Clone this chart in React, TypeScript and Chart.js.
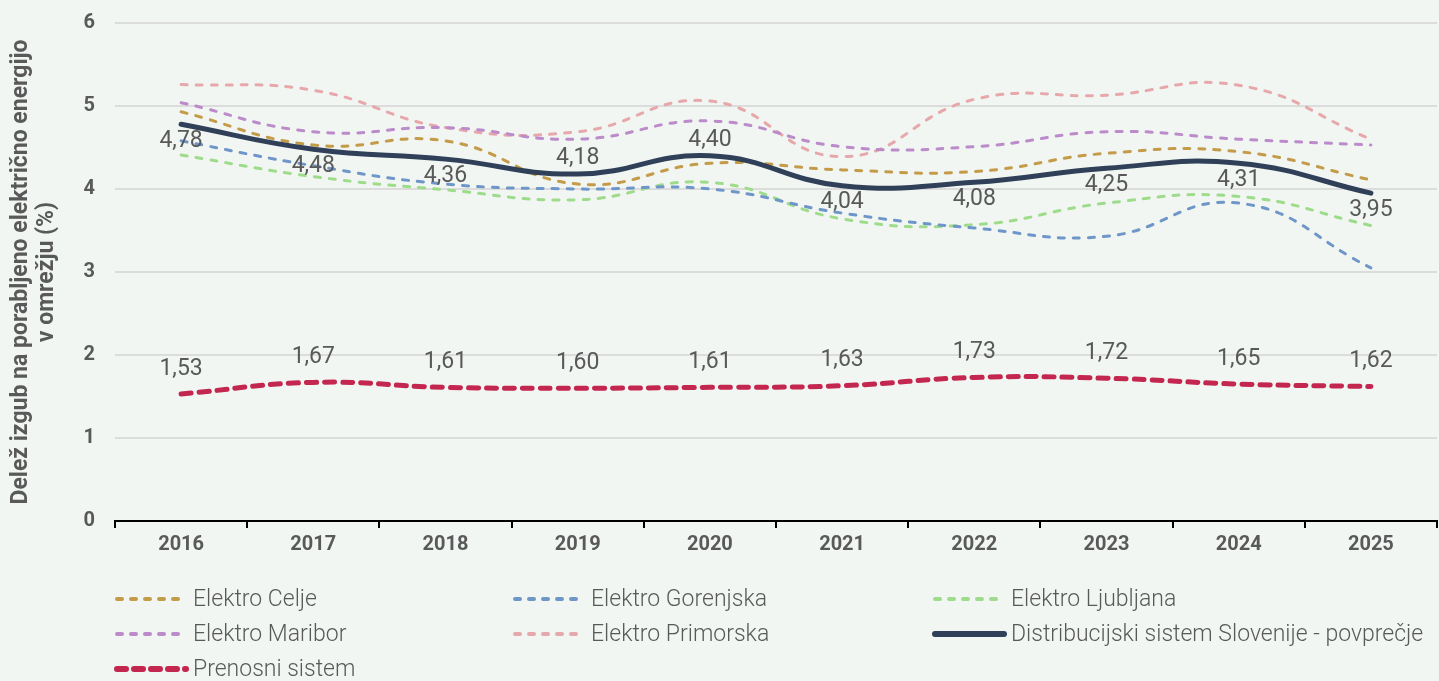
import React, { useEffect, useRef } from "react";
import { Chart, registerables } from "chart.js";

Chart.register(...registerables);

const years = ["2016", "2017", "2018", "2019", "2020", "2021", "2022", "2023", "2024", "2025"];
const celje = [4.93, 4.53, 4.58, 4.06, 4.31, 4.23, 4.21, 4.43, 4.45, 4.11];
const gorenjska = [4.58, 4.28, 4.06, 4.0, 4.0, 3.71, 3.53, 3.43, 3.83, 3.05];
const ljubljana = [4.41, 4.15, 3.99, 3.87, 4.08, 3.64, 3.57, 3.83, 3.91, 3.56];
const maribor = [5.04, 4.69, 4.74, 4.6, 4.82, 4.51, 4.51, 4.69, 4.6, 4.53];
const primorska = [5.26, 5.19, 4.74, 4.69, 5.06, 4.39, 5.08, 5.13, 5.25, 4.6];
const povprecje = [4.78, 4.48, 4.36, 4.18, 4.4, 4.04, 4.08, 4.25, 4.31, 3.95];
const prenosni = [1.53, 1.67, 1.61, 1.6, 1.61, 1.63, 1.73, 1.72, 1.65, 1.62];
const povprecjeLabelAbove = [false, false, false, true, true, false, false, false, false, false];

const TEXT = "#595959";
const FONT = "Roboto";

const valueLabels = {
  id: "valueLabels",
  afterDatasetsDraw(chart: any) {
    const ctx = chart.ctx;
    ctx.save();
    ctx.font = `400 23px ${FONT}`;
    ctx.fillStyle = TEXT;
    ctx.textAlign = "center";
    ctx.textBaseline = "middle";
    chart.data.datasets.forEach((ds: any, i: number) => {
      if (!ds.showValues) return;
      const meta = chart.getDatasetMeta(i);
      meta.data.forEach((pt: any, j: number) => {
        const above = ds.labelAbove ? ds.labelAbove[j] : true;
        const dy = above ? -ds.offAbove : ds.offBelow;
        const txt = Number(ds.data[j]).toFixed(2).replace(".", ",");
        ctx.fillText(txt, pt.x, pt.y + dy);
      });
    });
    ctx.restore();
  },
};

const legendPositions = [
  [115, 599], [513, 599], [933, 599],
  [115, 634], [513, 634], [933, 634],
  [115, 669],
];

const customLegend = {
  id: "customLegend",
  afterDraw(chart: any) {
    const ctx = chart.ctx;
    ctx.save();
    chart.data.datasets.forEach((ds: any, i: number) => {
      const p = legendPositions[i];
      if (!p) return;
      const [x, y] = p;
      ctx.beginPath();
      ctx.strokeStyle = ds.borderColor;
      ctx.lineWidth = ds.legendWidth;
      ctx.lineCap = "round";
      ctx.setLineDash(ds.legendDash || []);
      ctx.moveTo(x + 2, y);
      ctx.lineTo(x + 71, y);
      ctx.stroke();
      ctx.setLineDash([]);
      ctx.font = `300 23px ${FONT}`;
      ctx.fillStyle = TEXT;
      ctx.textAlign = "left";
      ctx.textBaseline = "middle";
      ctx.fillText(ds.label, x + 78, y + 1);
    });
    ctx.restore();
  },
};

function dashed(label: string, data: number[], color: string) {
  return {
    label,
    data,
    borderColor: color,
    backgroundColor: color,
    borderWidth: 3,
    borderDash: [6, 9],
    borderCapStyle: "round",
    legendDash: [5, 9],
    legendWidth: 4,
    pointRadius: 0,
    tension: 0.45,
    order: 2,
    fill: false,
  };
}

export default function App() {
  const ref = useRef<HTMLCanvasElement | null>(null);

  useEffect(() => {
    document.body.style.margin = "0";
    document.body.style.background = "#f2f6f3";
    const canvas = ref.current;
    if (!canvas) return;
    const chart = new Chart(canvas, {
      type: "line",
      data: {
        labels: years,
        datasets: [
          dashed("Elektro Celje", celje, "#c49b48"),
          dashed("Elektro Gorenjska", gorenjska, "#6f96c8"),
          dashed("Elektro Ljubljana", ljubljana, "#9edc8c"),
          dashed("Elektro Maribor", maribor, "#bb8bca"),
          dashed("Elektro Primorska", primorska, "#e6a8aa"),
          {
            label: "Distribucijski sistem Slovenije - povprečje",
            data: povprecje,
            borderColor: "#2f4058",
            backgroundColor: "#2f4058",
            borderWidth: 5,
            borderCapStyle: "round",
            legendWidth: 6,
            pointRadius: 0,
            tension: 0.45,
            order: 0,
            showValues: true,
            labelAbove: povprecjeLabelAbove,
            offAbove: 16,
            offBelow: 17,
          } as any,
          {
            label: "Prenosni sistem",
            data: prenosni,
            borderColor: "#c3264f",
            backgroundColor: "#c3264f",
            borderWidth: 5,
            borderDash: [10, 8],
            borderCapStyle: "round",
            legendDash: [9, 8],
            legendWidth: 6,
            pointRadius: 0,
            tension: 0.45,
            order: 1,
            showValues: true,
            offAbove: 25,
            offBelow: 25,
          } as any,
        ] as any,
      },
      options: {
        animation: false,
        responsive: false,
        maintainAspectRatio: false,
        layout: { padding: { top: 23, left: 0, right: 2, bottom: 120 } },
        plugins: {
          legend: { display: false },
          tooltip: { enabled: false },
        },
        scales: {
          x: {
            offset: true,
            border: { display: true, color: "#000000", width: 2 },
            grid: {
              display: true,
              offset: true,
              drawOnChartArea: false,
              drawTicks: true,
              tickLength: 7,
              color: "#000000",
              lineWidth: 2,
            },
            ticks: {
              color: TEXT,
              font: { family: FONT, size: 20, weight: "bold" },
              padding: 5,
            },
            afterFit(scale: any) {
              scale.height = 40;
              scale.paddingLeft = 0;
              scale.paddingRight = 0;
            },
          },
          y: {
            min: 0,
            max: 6,
            border: { display: false },
            grid: { color: "#dcdcdc", lineWidth: 2, drawTicks: false },
            ticks: {
              stepSize: 1,
              color: TEXT,
              font: { family: FONT, size: 20, weight: "bold" },
              padding: 20,
            },
            title: {
              display: true,
              text: ["Delež izgub na porabljeno električno energijo", "v omrežju (%)"],
              color: TEXT,
              font: { family: FONT, size: 23, weight: "bold", lineHeight: 1.15 },
              padding: { top: 8, bottom: 0 },
            },
            afterFit(scale: any) {
              scale.width = 115;
              scale.paddingTop = 0;
              scale.paddingBottom = 0;
            },
          },
        },
      } as any,
      plugins: [valueLabels, customLegend],
    });
    return () => chart.destroy();
  }, []);

  return (
    <div style={{ position: "fixed", left: 0, top: 0, width: 1439, height: 681, background: "#f2f6f3" }}>
      <canvas ref={ref} width={1439} height={681} style={{ width: 1439, height: 681, display: "block" }} />
    </div>
  );
}
